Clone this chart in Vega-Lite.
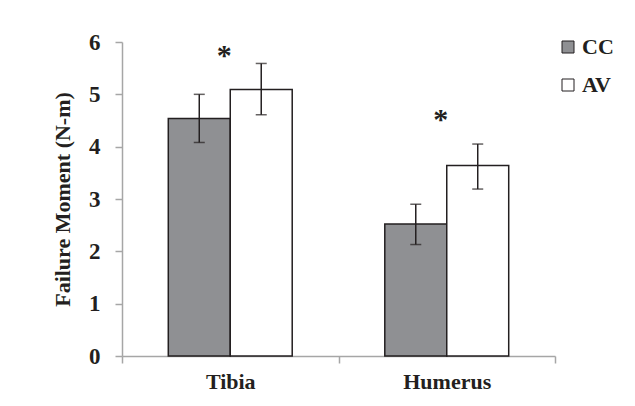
{
  "$schema": "https://vega.github.io/schema/vega-lite/v6.json",
  "autosize": "none",
  "width": 433,
  "height": 314,
  "padding": {"left": 122, "top": 42, "right": 80, "bottom": 50},
  "background": "white",
  "config": {
    "view": {"stroke": null},
    "font": "Times New Roman, Liberation Serif, serif"
  },
  "datasets": {
    "bars": [
      {"bone": "Tibia", "group": "CC", "value": 4.54, "lo": 4.08, "hi": 5.0},
      {"bone": "Tibia", "group": "AV", "value": 5.09, "lo": 4.61, "hi": 5.59},
      {"bone": "Humerus", "group": "CC", "value": 2.52, "lo": 2.13, "hi": 2.9},
      {"bone": "Humerus", "group": "AV", "value": 3.64, "lo": 3.19, "hi": 4.05}
    ],
    "stars": [
      {"bone": "Tibia", "pos": 5.81, "label": "*"},
      {"bone": "Humerus", "pos": 4.59, "label": "*"}
    ]
  },
  "encoding": {
    "x": {
      "field": "bone",
      "type": "nominal",
      "sort": ["Tibia", "Humerus"],
      "scale": {"paddingInner": 0, "paddingOuter": 0},
      "axis": {
        "title": null,
        "labelAngle": 0,
        "labelFont": "Times New Roman, Liberation Serif, serif",
        "labelFontSize": 22,
        "labelFontWeight": "bold",
        "labelColor": "#231f20",
        "labelPadding": 8,
        "tickBand": "extent",
        "tickSize": 7,
        "tickColor": "#a6a6a6",
        "tickWidth": 1.5,
        "domainColor": "#a6a6a6",
        "domainWidth": 1.5
      }
    }
  },
  "layer": [
    {
      "data": {"name": "bars"},
      "mark": {"type": "bar", "stroke": "#231f20", "strokeWidth": 1.5},
      "encoding": {
        "xOffset": {
          "field": "group",
          "type": "nominal",
          "sort": ["CC", "AV"],
          "scale": {"paddingInner": 0, "paddingOuter": 0.747}
        },
        "y": {
          "field": "value",
          "type": "quantitative",
          "scale": {"domain": [0, 6]},
          "axis": {
            "title": "Failure Moment (N-m)",
            "titleFont": "Times New Roman, Liberation Serif, serif",
            "titleFontSize": 22,
            "titleFontWeight": "bold",
            "titleColor": "#231f20",
            "titlePadding": 14,
            "values": [0, 1, 2, 3, 4, 5, 6],
            "grid": false,
            "labelFont": "Times New Roman, Liberation Serif, serif",
            "labelFontSize": 23,
            "labelFontWeight": "bold",
            "labelColor": "#231f20",
            "labelPadding": 15,
            "tickSize": 7,
            "tickColor": "#a6a6a6",
            "tickWidth": 1.5,
            "domainColor": "#a6a6a6",
            "domainWidth": 1.5
          }
        },
        "color": {
          "field": "group",
          "type": "nominal",
          "sort": ["CC", "AV"],
          "scale": {"domain": ["CC", "AV"], "range": ["#8f9093", "#ffffff"]},
          "legend": {
            "title": null,
            "orient": "none",
            "legendX": 435,
            "legendY": -6,
            "symbolType": "square",
            "symbolSize": 144,
            "symbolStrokeColor": "#231f20",
            "symbolStrokeWidth": 1,
            "symbolOpacity": 1,
            "labelFont": "Times New Roman, Liberation Serif, serif",
            "labelFontSize": 22,
            "labelFontWeight": "bold",
            "labelColor": "#231f20",
            "labelOffset": 3,
            "rowPadding": 16
          }
        }
      }
    },
    {
      "data": {"name": "bars"},
      "mark": {"type": "rule", "color": "#231f20", "strokeWidth": 1.5},
      "encoding": {
        "xOffset": {"field": "group", "type": "nominal", "sort": ["CC", "AV"]},
        "y": {"field": "lo", "type": "quantitative"},
        "y2": {"field": "hi"}
      }
    },
    {
      "data": {"name": "bars"},
      "mark": {"type": "tick", "color": "#231f20", "thickness": 1.5, "size": 11, "orient": "horizontal"},
      "encoding": {
        "xOffset": {"field": "group", "type": "nominal", "sort": ["CC", "AV"]},
        "y": {"field": "lo", "type": "quantitative"}
      }
    },
    {
      "data": {"name": "bars"},
      "mark": {"type": "tick", "color": "#231f20", "thickness": 1.5, "size": 11, "orient": "horizontal"},
      "encoding": {
        "xOffset": {"field": "group", "type": "nominal", "sort": ["CC", "AV"]},
        "y": {"field": "hi", "type": "quantitative"}
      }
    },
    {
      "data": {"name": "stars"},
      "mark": {"type": "text", "font": "Times New Roman, Liberation Serif, serif", "fontSize": 30, "fontWeight": "bold", "color": "#231f20", "baseline": "middle", "dx": -6, "dy": 4},
      "encoding": {
        "y": {"field": "pos", "type": "quantitative"},
        "text": {"field": "label"}
      }
    }
  ]
}
